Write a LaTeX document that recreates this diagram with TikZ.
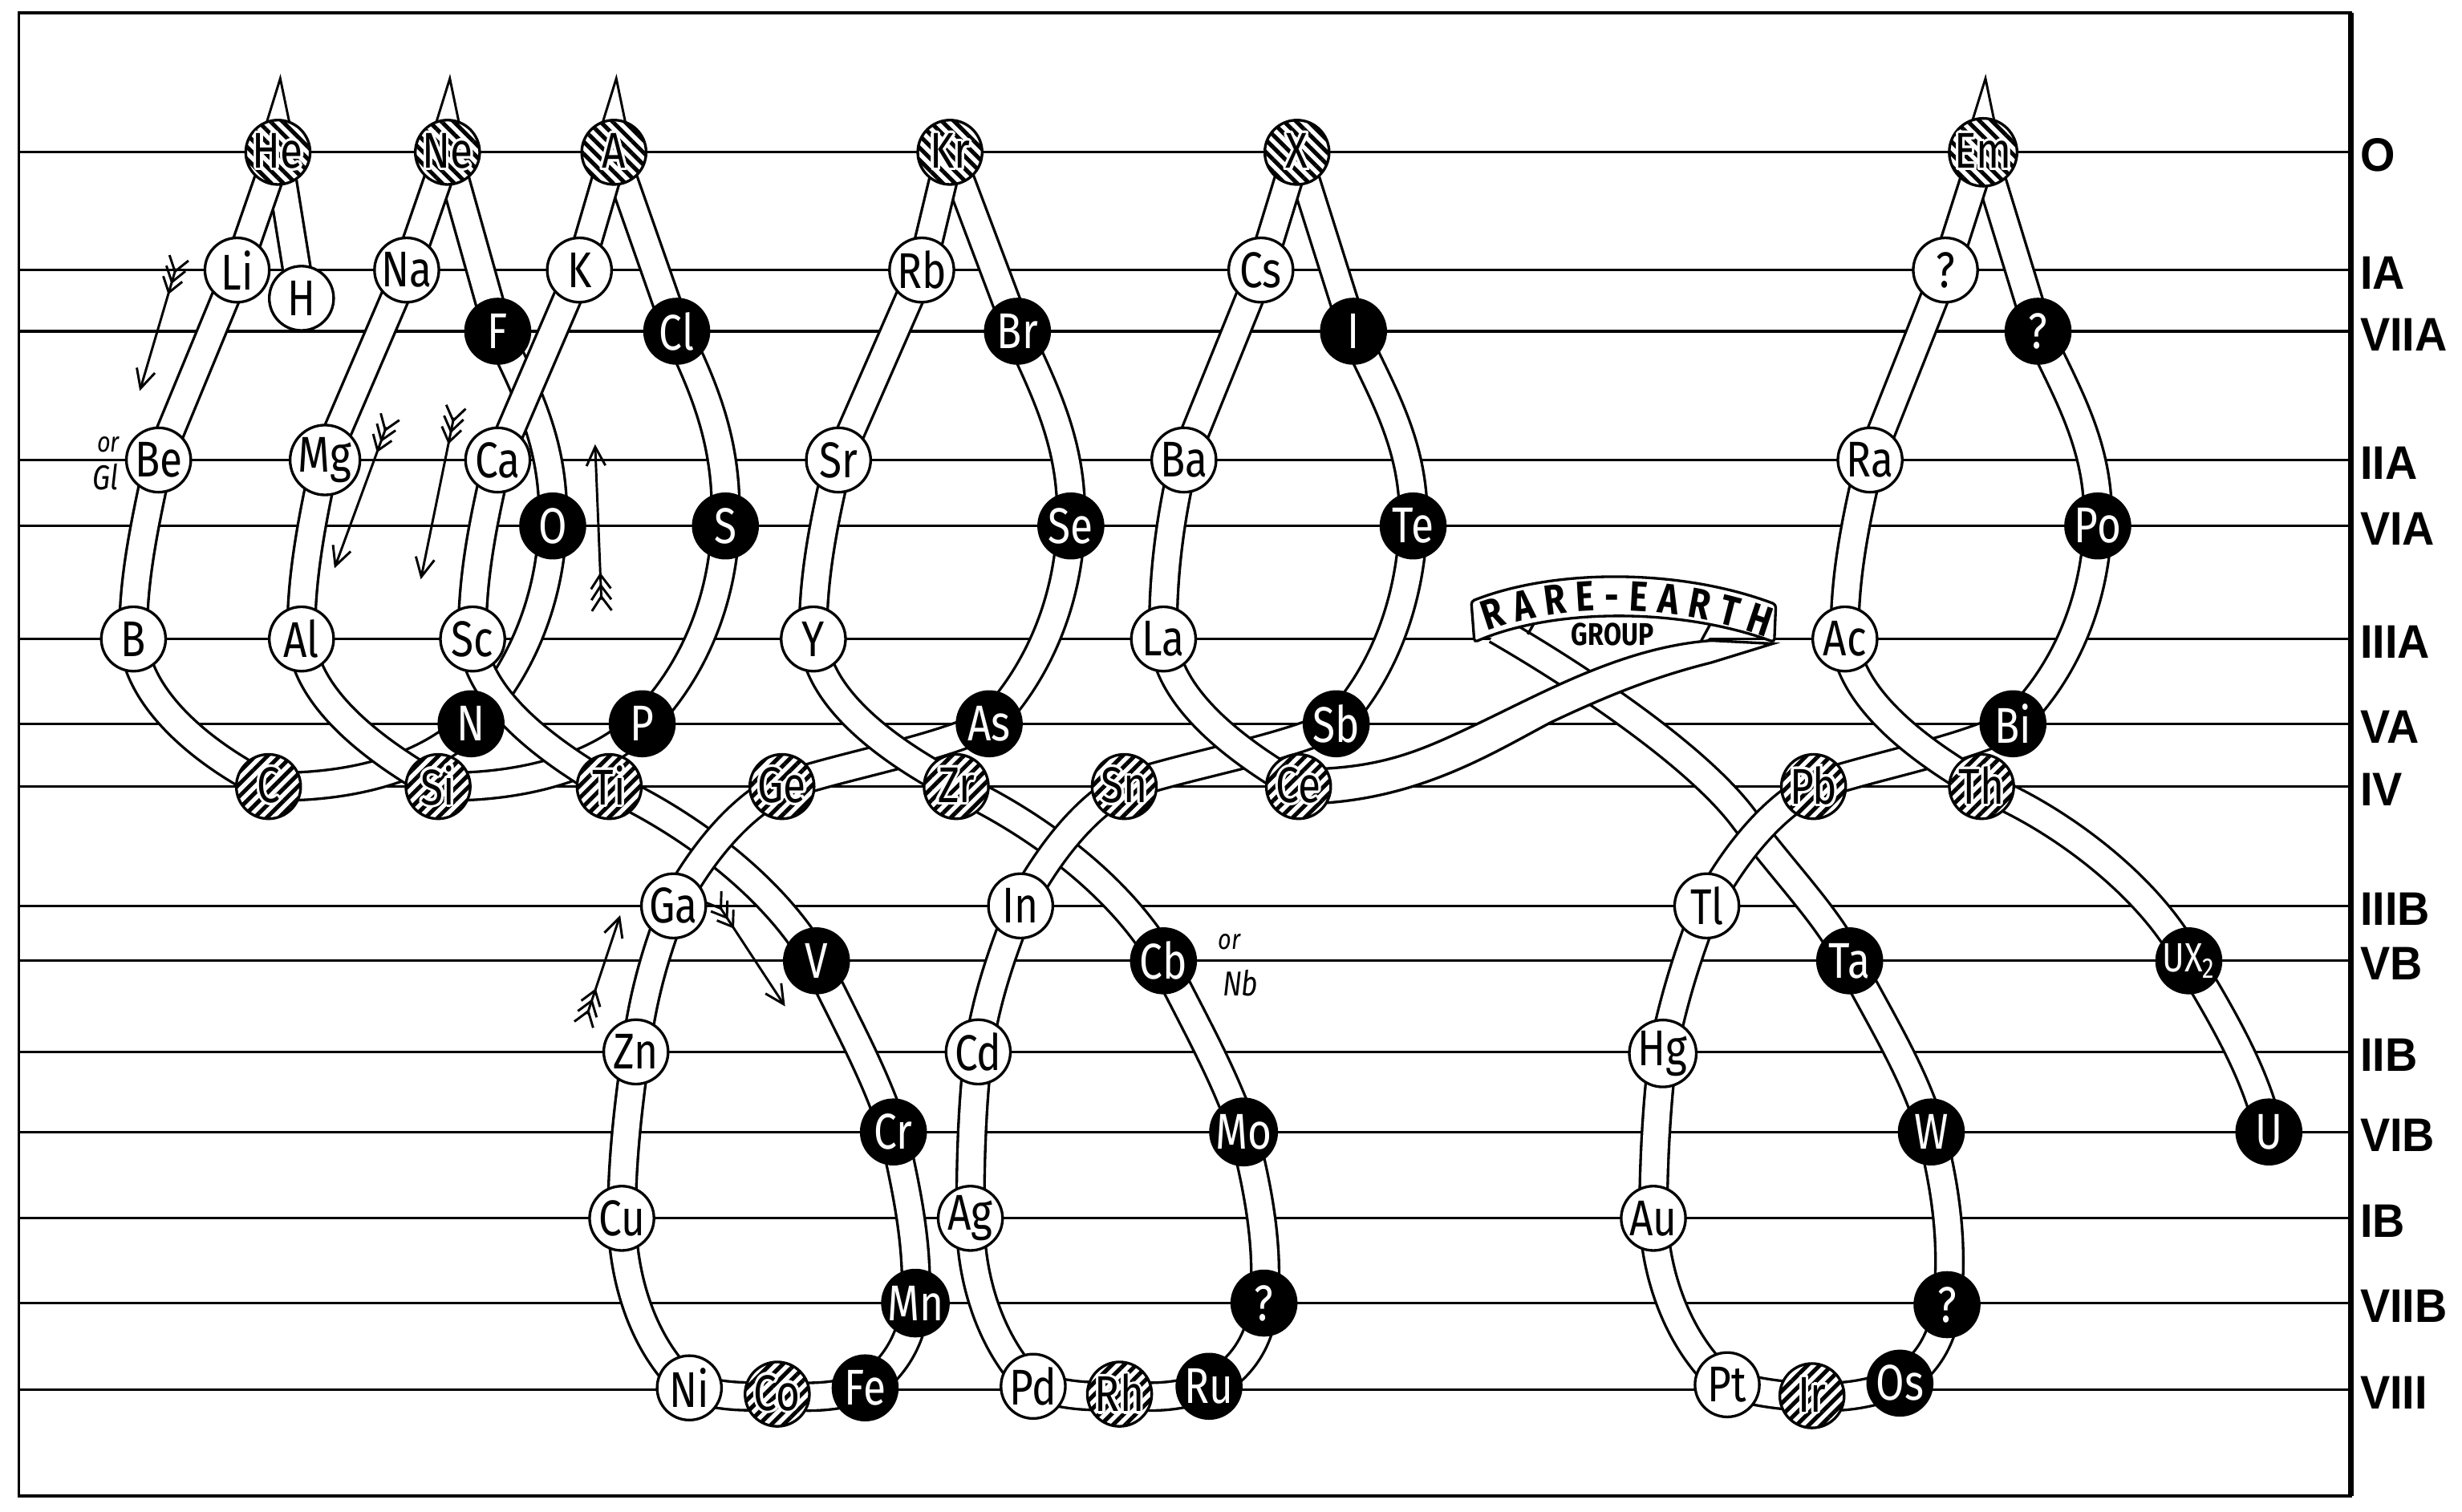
\documentclass[tikz,border=0pt]{standalone}
\usepackage{fontspec}
\usepackage{contour}
\usetikzlibrary{arrows.meta,calc,patterns.meta,decorations.text}
\newfontfamily\elfont[FakeStretch=0.82]{Fira Sans}
\newfontfamily\grpfont[FakeStretch=0.95]{Liberation Sans}
\contourlength{1.6pt}
\newcommand{\hatchtext}[1]{\contour{white}{#1}}
\newcommand{\fletched}[2]{%
  \draw[arrowline,-{Straight Barb[length=12pt,width=12pt]}] (#1) -- (#2);
  \foreach \d in {2pt,9pt,16pt}{%
    \coordinate (fp) at ($(#1)!\d!(#2)$);
    \draw[arrowline] ($(fp)!11pt!35:(#1)$) -- (fp) -- ($(fp)!11pt!-35:(#1)$);
  }%
}
\pgfdeclarelayer{grid}
\pgfdeclarelayer{tubes}
\pgfsetlayers{grid,tubes,main}

\begin{document}
\begin{tikzpicture}[x=1pt, y=-1pt,
    elem/.style={circle, draw, line width=1.7pt, minimum size=41pt, inner sep=0pt,
                 font=\elfont\fontsize{32}{32}\selectfont},
    open/.style={elem, fill=white},
    dark/.style={elem, fill=black, text=white},
    hatched/.style={elem, preaction={fill=white}, pattern={Lines[angle=45,distance=5.5pt,line width=2.6pt]}},
    noble/.style={elem, preaction={fill=white}, pattern={Lines[angle=-45,distance=5.5pt,line width=2.6pt]}},
    tube/.style={line width=1.7pt, double=white, double distance=16pt},
    band/.style={line width=1.7pt, fill=white, draw=black},
    hline/.style={line width=1.6pt},
    spike/.style={draw, fill=white, line width=1.5pt},
    arrowline/.style={line width=1.5pt},
    grouplabel/.style={anchor=west, inner sep=0pt, font=\grpfont\bfseries\fontsize{30}{30}\selectfont},
    note/.style={inner sep=0pt, font=\elfont\itshape\fontsize{22}{22}\selectfont}
]
\useasboundingbox (0,0) rectangle (1568,963);

% Frame and group lines
\begin{pgfonlayer}{grid}
\draw[line width=2pt] (12,8) rectangle (1497,953);
\draw[line width=3.5pt] (1497,8) -- (1497,953);
\foreach \y in {97,172,211,293,335,407,461,501,577,612,670,721,776,830,885}
  \draw[hline] (12,\y) -- (1497,\y);
\end{pgfonlayer}

% Group labels on the right
\foreach \y/\t in {97/O,172/IA,211/VIIA,293/IIA,335/VIA,407/IIIA,461/VA,501/IV,
                   577/IIIB,612/VB,670/IIB,721/VIB,776/IB,830/VIIB,885/VIII}
  \node[grouplabel] (lbl\t) at (1503,\y+2) {\t};

% Row O
\node[noble] (He) at (177,97) {\hatchtext{He}};
\node[noble] (Ne) at (285,97) {\hatchtext{Ne}};
\node[noble] (A) at (391,97) {\hatchtext{A}};
\node[noble] (Kr) at (605,97) {\hatchtext{Kr}};
\node[noble] (X) at (826,97) {\hatchtext{X}};
\node[noble] (Em) at (1263,97) {\hatchtext{Em}};
\node[open] (H) at (192,190) {H};
% Row IA
\node[open] (Li) at (151,172) {Li};
\node[open] (Na) at (259,172) {Na};
\node[open] (K) at (369,172) {K};
\node[open] (Rb) at (587,172) {Rb};
\node[open] (Cs) at (803,172) {Cs};
\node[open] (q1) at (1239,172) {?};
% Row VIIA
\node[dark] (F) at (317,211) {F};
\node[dark] (Cl) at (431,211) {Cl};
\node[dark] (Br) at (648,211) {Br};
\node[dark] (I) at (862,211) {I};
\node[dark] (q2) at (1298,211) {?};
% Row IIA
\node[open] (Be) at (101,293) {Be};
\node[open] (Mg) at (207,293) {Mg};
\node[open] (Ca) at (317,293) {Ca};
\node[open] (Sr) at (534,293) {Sr};
\node[open] (Ba) at (754,293) {Ba};
\node[open] (Ra) at (1191,293) {Ra};
% Row VIA
\node[dark] (O) at (352,335) {O};
\node[dark] (S) at (462,335) {S};
\node[dark] (Se) at (682,335) {Se};
\node[dark] (Te) at (900,335) {Te};
\node[dark] (Po) at (1336,335) {Po};
% Row IIIA
\node[open] (B) at (85,407) {B};
\node[open] (Al) at (192,407) {Al};
\node[open] (Sc) at (301,407) {Sc};
\node[open] (Y) at (518,407) {Y};
\node[open] (La) at (741,407) {La};
\node[open] (Ac) at (1175,407) {Ac};
% Row VA
\node[dark] (N) at (300,461) {N};
\node[dark] (P) at (409,461) {P};
\node[dark] (As) at (630,461) {As};
\node[dark] (Sb) at (851,461) {Sb};
\node[dark] (Bi) at (1282,461) {Bi};
% Row IV
\node[hatched] (C) at (171,501) {\hatchtext{C}};
\node[hatched] (Si) at (279,501) {\hatchtext{Si}};
\node[hatched] (Ti) at (388,501) {\hatchtext{Ti}};
\node[hatched] (Ge) at (498,501) {\hatchtext{Ge}};
\node[hatched] (Zr) at (609,501) {\hatchtext{Zr}};
\node[hatched] (Sn) at (716,501) {\hatchtext{Sn}};
\node[hatched] (Ce) at (827,501) {\hatchtext{Ce}};
\node[hatched] (Pb) at (1155,501) {\hatchtext{Pb}};
\node[hatched] (Th) at (1262,501) {\hatchtext{Th}};
% Row IIIB
\node[open] (Ga) at (429,577) {Ga};
\node[open] (In) at (650,577) {In};
\node[open] (Tl) at (1087,577) {Tl};
% Row VB
\node[dark] (V) at (520,612) {V};
\node[dark] (Cb) at (741,612) {Cb};
\node[dark] (Ta) at (1178,612) {Ta};
\node[dark] (UX2) at (1394,612) {\fontsize{26}{26}\selectfont UX\textsubscript{2}};
% Row IIB
\node[open] (Zn) at (405,670) {Zn};
\node[open] (Cd) at (623,670) {Cd};
\node[open] (Hg) at (1059,671) {Hg};
% Row VIB
\node[dark] (Cr) at (569,721) {Cr};
\node[dark] (Mo) at (792,721) {Mo};
\node[dark] (W) at (1230,721) {W};
\node[dark] (U) at (1445,721) {U};
% Row IB
\node[open] (Cu) at (396,776) {Cu};
\node[open] (Ag) at (618,776) {Ag};
\node[open] (Au) at (1053,776) {Au};
% Row VIIB
\node[dark] (Mn) at (583,830) {Mn};
\node[dark] (q3) at (805,830) {?};
\node[dark] (q4) at (1240,831) {?};
% Row VIII
\node[open] (Ni) at (439,884) {Ni};
\node[hatched] (Co) at (495,888) {\hatchtext{Co}};
\node[dark] (Fe) at (551,884) {Fe};
\node[open] (Pd) at (658,883) {Pd};
\node[hatched] (Rh) at (713,888) {\hatchtext{Rh}};
\node[dark] (Ru) at (770,883) {Ru};
\node[open] (Pt) at (1100,882) {Pt};
\node[hatched] (Ir) at (1154,889) {\hatchtext{Ir}};
\node[dark] (Os) at (1210,881) {Os};

% Side notes
\node[note, font=\elfont\itshape\fontsize{18}{18}\selectfont] (orGl) at (69,283) {or};
\node[note] (Gl) at (67,304) {Gl};
\node[note, font=\elfont\itshape\fontsize{18}{18}\selectfont] (orNb) at (783,600) {or};
\node[note] (Nb) at (790,626) {Nb};

\begin{pgfonlayer}{tubes}
% Spikes over the first noble gases
\foreach \g in {He,Ne,A,Em}
  \draw[spike] ($(\g)+(-7.5,-18)$) -- ($(\g)+(1.5,-47)$) -- ($(\g)+(7.5,-18)$);

% Periods 1 and 2
\draw[tube] (He.center) -- (H.center);
\draw[tube] (He.center) -- (Li.center);
\draw[tube] (Li.center) -- (Be.center);
\draw[tube] (Be.center) .. controls (93,330) and (84,370) .. (B.center);
\draw[tube] (B.center) .. controls (87,443) and (125,478) .. (C.center);
\draw[tube] (C.center) .. controls (218,502) and (268,492) .. (N.center);
\draw[tube] (N.center) .. controls (330,430) and (350,385) .. (O.center);
\draw[tube] (O.center) .. controls (354,285) and (336,250) .. (F.center);
\draw[tube] (F.center) -- (Ne.center);
% Period 3
\draw[tube] (Ne.center) -- (Na.center);
\draw[tube] (Na.center) -- (Mg.center);
\draw[tube] (Mg.center) .. controls (199,330) and (191,370) .. (Al.center);
\draw[tube] (Al.center) .. controls (195,445) and (238,478) .. (Si.center);
\draw[tube] (Si.center) .. controls (325,502) and (377,492) .. (P.center);
\draw[tube] (P.center) .. controls (440,430) and (460,385) .. (S.center);
\draw[tube] (S.center) .. controls (464,285) and (450,250) .. (Cl.center);
\draw[tube] (Cl.center) -- (A.center);
% Period 4
\draw[tube] (A.center) -- (K.center);
\draw[tube] (K.center) -- (Ca.center);
\draw[tube] (Ca.center) .. controls (308,330) and (300,370) .. (Sc.center);
\draw[tube] (Sc.center) .. controls (304,445) and (348,478) .. (Ti.center);
\draw[tube] (Ti.center) .. controls (430,520) and (490,560) .. (V.center);
\draw[tube] (V.center) .. controls (538,650) and (558,685) .. (Cr.center);
\draw[tube] (Cr.center) .. controls (578,760) and (585,795) .. (Mn.center);
\draw[tube] (Mn.center) .. controls (581,852) and (570,872) .. (Fe.center);
\draw[tube] (Fe.center) .. controls (532,890) and (514,891) .. (Co.center);
\draw[tube] (Co.center) .. controls (476,891) and (457,889) .. (Ni.center);
\draw[tube] (Ni.center) .. controls (412,860) and (397,820) .. (Cu.center);
\draw[tube] (Cu.center) .. controls (396,740) and (400,705) .. (Zn.center);
\draw[tube] (Zn.center) .. controls (409,635) and (418,605) .. (Ga.center);
\draw[tube] (Ga.center) .. controls (446,545) and (470,515) .. (Ge.center);
\draw[tube] (Ge.center) .. controls (535,488) and (595,478) .. (As.center);
\draw[tube] (As.center) .. controls (660,430) and (680,385) .. (Se.center);
\draw[tube] (Se.center) .. controls (684,285) and (666,250) .. (Br.center);
\draw[tube] (Br.center) -- (Kr.center);
% Period 5
\draw[tube] (Kr.center) -- (Rb.center);
\draw[tube] (Rb.center) -- (Sr.center);
\draw[tube] (Sr.center) .. controls (525,330) and (517,370) .. (Y.center);
\draw[tube] (Y.center) .. controls (521,445) and (565,478) .. (Zr.center);
\draw[tube] (Zr.center) .. controls (651,520) and (711,560) .. (Cb.center);
\draw[tube] (Cb.center) .. controls (760,650) and (780,685) .. (Mo.center);
\draw[tube] (Mo.center) .. controls (802,760) and (808,795) .. (q3.center);
\draw[tube] (q3.center) .. controls (803,852) and (792,872) .. (Ru.center);
\draw[tube] (Ru.center) .. controls (751,890) and (732,891) .. (Rh.center);
\draw[tube] (Rh.center) .. controls (694,891) and (676,888) .. (Pd.center);
\draw[tube] (Pd.center) .. controls (634,860) and (618,820) .. (Ag.center);
\draw[tube] (Ag.center) .. controls (618,740) and (619,705) .. (Cd.center);
\draw[tube] (Cd.center) .. controls (628,635) and (639,605) .. (In.center);
\draw[tube] (In.center) .. controls (667,545) and (690,515) .. (Sn.center);
\draw[tube] (Sn.center) .. controls (752,488) and (815,478) .. (Sb.center);
\draw[tube] (Sb.center) .. controls (880,430) and (898,385) .. (Te.center);
\draw[tube] (Te.center) .. controls (902,285) and (880,250) .. (I.center);
\draw[tube] (I.center) -- (X.center);
% Period 6
\draw[tube] (X.center) -- (Cs.center);
\draw[tube] (Cs.center) -- (Ba.center);
\draw[tube] (Ba.center) .. controls (745,330) and (740,370) .. (La.center);
\draw[tube] (La.center) .. controls (744,445) and (787,478) .. (Ce.center);

% Rare-earth ribbon
\fill[white] (976,398) -- (973,405) -- (1013,427) -- (1083,410) -- (1100,399) -- cycle;
\draw[tube] (953,401) .. controls (1000,428) and (1080,480) .. (1111,522)
            .. controls (1140,560) and (1165,585) .. (Ta.center);
\draw[band] (827,490) .. controls (880,490) and (905,478) .. (941,461)
            .. controls (985,440) and (1035,412) .. (1090,408) -- (1129,410)
            -- (1090,422) .. controls (1050,432) and (1020,445) .. (988,460)
            .. controls (950,480) and (900,512) .. (827,512) -- cycle;
\draw[band, rounded corners=2pt] (937,383) .. controls (990,362) and (1070,362) .. (1131,385)
            -- (1130,409) .. controls (1070,387) and (990,387) .. (939,409) -- cycle;
\draw[line width=1.7pt] (977,397) -- (973,404);
\draw[line width=1.7pt] (1089,398) -- (1083,409);
\path[decorate, decoration={text along path, text align={fit to path},
      text={|\elfont\bfseries\fontsize{27}{27}\selectfont|RARE-EARTH}}]
      (947,402) .. controls (995,384) and (1065,384) .. (1125,406);
\node[inner sep=0pt, font=\elfont\bfseries\fontsize{20}{20}\selectfont] (group) at (1027,404) {GROUP};

% Periods 6 and 7, after the rare earths
\draw[tube] (Ta.center) .. controls (1198,650) and (1220,685) .. (W.center);
\draw[tube] (W.center) .. controls (1240,760) and (1244,795) .. (q4.center);
\draw[tube] (q4.center) .. controls (1237,855) and (1226,870) .. (Os.center);
\draw[tube] (Os.center) .. controls (1190,888) and (1173,891) .. (Ir.center);
\draw[tube] (Ir.center) .. controls (1135,890) and (1117,886) .. (Pt.center);
\draw[tube] (Pt.center) .. controls (1075,862) and (1055,822) .. (Au.center);
\draw[tube] (Au.center) .. controls (1053,740) and (1055,705) .. (Hg.center);
\draw[tube] (Hg.center) .. controls (1066,635) and (1076,605) .. (Tl.center);
\draw[tube] (Tl.center) .. controls (1104,545) and (1128,515) .. (Pb.center);
\draw[tube] (Pb.center) .. controls (1192,488) and (1250,478) .. (Bi.center);
\draw[tube] (Bi.center) .. controls (1314,430) and (1334,385) .. (Po.center);
\draw[tube] (Po.center) .. controls (1338,285) and (1316,250) .. (q2.center);
\draw[tube] (q2.center) -- (Em.center);
\draw[tube] (Em.center) -- (q1.center);
\draw[tube] (q1.center) -- (Ra.center);
\draw[tube] (Ra.center) .. controls (1182,330) and (1174,370) .. (Ac.center);
\draw[tube] (Ac.center) .. controls (1178,445) and (1222,478) .. (Th.center);
\draw[tube] (Th.center) .. controls (1310,520) and (1370,565) .. (UX2.center);
\draw[tube] (UX2.center) .. controls (1417,650) and (1437,685) .. (U.center);
\end{pgfonlayer}

% Direction arrows
\coordinate (a1s) at (112,171); \coordinate (a1e) at (89,249);
\coordinate (a2s) at (246,272); \coordinate (a2e) at (213,362);
\coordinate (a3s) at (289,266); \coordinate (a3e) at (268,369);
\coordinate (a4s) at (383,382); \coordinate (a4e) at (379,283);
\coordinate (a5s) at (374,646); \coordinate (a5e) at (395,583);
\coordinate (a6s) at (458,577); \coordinate (a6e) at (500,641);
\fletched{a1s}{a1e}
\fletched{a2s}{a2e}
\fletched{a3s}{a3e}
\fletched{a4s}{a4e}
\fletched{a5s}{a5e}
\fletched{a6s}{a6e}

\end{tikzpicture}
\end{document}
